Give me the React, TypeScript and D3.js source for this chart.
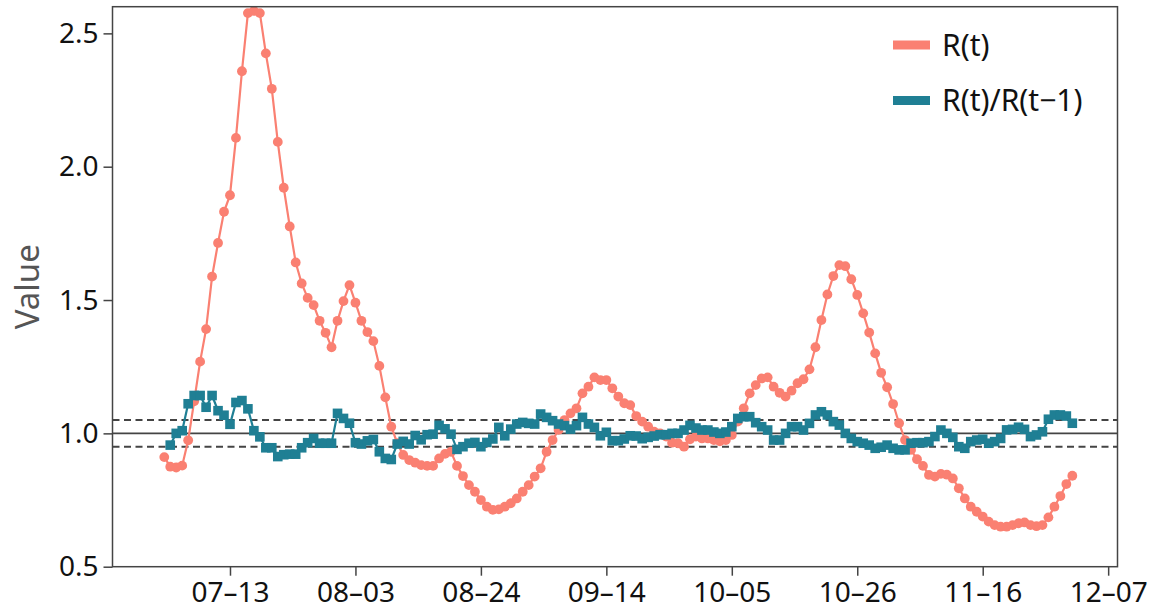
import * as d3 from "d3";
import { useEffect, useRef } from "react";

// R(t), daily from 2020-07-02
const rStart = "2020-07-02";
const rValues = [
    0.911, 0.875, 0.872, 0.879, 0.974, 1.12, 1.269, 1.391, 1.588, 1.714, 1.831, 1.893,
    2.108, 2.358, 2.576, 2.584, 2.576, 2.425, 2.292, 2.093, 1.921, 1.776, 1.641, 1.562,
    1.508, 1.481, 1.422, 1.377, 1.323, 1.422, 1.496, 1.556, 1.49, 1.422, 1.38, 1.346,
    1.253, 1.135, 1.025, 0.963, 0.919, 0.9, 0.89, 0.881, 0.878, 0.878, 0.906, 0.923,
    0.931, 0.878, 0.84, 0.806, 0.781, 0.75, 0.725, 0.713, 0.715, 0.725, 0.738, 0.756,
    0.781, 0.806, 0.838, 0.869, 0.931, 0.975, 1.013, 1.05, 1.075, 1.094, 1.15, 1.175,
    1.21, 1.2, 1.2, 1.169, 1.138, 1.113, 1.106, 1.065, 1.044, 1.025, 1.006, 1.0,
    0.988, 0.965, 0.963, 0.95, 0.978, 0.988, 0.981, 0.981, 0.975, 0.97, 0.975, 0.994,
    1.044, 1.094, 1.15, 1.181, 1.206, 1.21, 1.175, 1.152, 1.138, 1.16, 1.188, 1.203,
    1.24, 1.323, 1.425, 1.521, 1.59, 1.631, 1.627, 1.578, 1.519, 1.45, 1.378, 1.3,
    1.227, 1.173, 1.11, 1.038, 0.975, 0.938, 0.903, 0.878, 0.844, 0.838, 0.848, 0.845,
    0.831, 0.794, 0.756, 0.725, 0.706, 0.688, 0.669, 0.656, 0.65, 0.65, 0.656, 0.663,
    0.666, 0.656, 0.652, 0.656, 0.685, 0.725, 0.765, 0.81, 0.841
];

// R(t)/R(t-1), daily from 2020-07-03
const ratioStart = "2020-07-03";
const ratioValues = [
    0.956, 1.0, 1.01, 1.111, 1.142, 1.142, 1.098, 1.142, 1.085, 1.068, 1.034, 1.116,
    1.123, 1.092, 1.01, 0.987, 0.946, 0.946, 0.913, 0.92, 0.922, 0.922, 0.946, 0.965,
    0.981, 0.963, 0.963, 0.963, 1.075, 1.056, 1.038, 0.965, 0.96, 0.972, 0.977, 0.931,
    0.906, 0.902, 0.96, 0.97, 0.96, 0.992, 0.976, 0.995, 0.997, 1.03, 1.017, 0.997,
    0.94, 0.95, 0.963, 0.966, 0.95, 0.966, 0.979, 1.0225, 0.991, 1.016, 1.035, 1.041,
    1.0375, 1.035, 1.0725, 1.06, 1.0475, 1.035, 1.029, 1.016, 1.029, 1.06, 1.035, 1.0225,
    0.991, 1.004, 0.9725, 0.9725, 0.979, 0.991, 0.99, 0.98, 0.985, 0.99, 0.995, 0.995,
    1.0, 1.0, 1.0125, 1.03, 1.02, 1.0125, 1.0125, 1.005, 1.0, 1.005, 1.025, 1.056,
    1.0625, 1.0625, 1.04, 1.025, 1.0125, 0.975, 0.975, 1.0, 1.025, 1.025, 1.0125, 1.0375,
    1.069, 1.081, 1.069, 1.044, 1.031, 1.0, 0.981, 0.969, 0.963, 0.956, 0.944, 0.948,
    0.956, 0.944, 0.938, 0.938, 0.963, 0.965, 0.965, 0.969, 0.988, 1.0125, 1.0, 0.985,
    0.95, 0.944, 0.969, 0.975, 0.978, 0.963, 0.969, 0.981, 1.013, 1.015, 1.023, 1.015,
    0.988, 0.994, 1.006, 1.053, 1.069, 1.069, 1.065, 1.038
];

const xTickLabels = ["07-13", "08-03", "08-24", "09-14", "10-05", "10-26", "11-16", "12-07"];
const yTicks = [0.5, 1.0, 1.5, 2.0, 2.5];
const refLevels = [0.95, 1.0, 1.05];
const seriesNames = ["R(t)", "R(t)/R(t\u22121)"];

const COLOR_R = "#fa8072";
const COLOR_RATIO = "#1f7f94";
const AXIS_COLOR = "#444";
const FONT = "'Noto Sans', 'Open Sans', sans-serif";

const toSeries = (start: string, values: number[]) => {
    const t0 = d3.utcParse("%Y-%m-%d")(start) as Date;
    return values.map((v, i) => ({ date: d3.utcDay.offset(t0, i), value: v }));
};

const App = () => {
    const ref = useRef<SVGSVGElement>(null);

    useEffect(() => {
        const svg = d3.select(ref.current);
        svg.selectAll("*").remove();

        const left = 112.5, right = 1117.5, top = 6.7, bottom = 566.7;

        const x = d3.scaleUtc()
            .domain([new Date(Date.UTC(2020, 5, 23, 8)), new Date(Date.UTC(2020, 11, 8, 13, 30))])
            .range([left, right]);
        const y = d3.scaleLinear().domain([0.5, 2.6]).range([bottom, top]);

        const parseTick = d3.utcParse("%Y-%m-%d");
        const xTicks = xTickLabels.map(l => parseTick("2020-" + l) as Date);

        // reference lines
        svg.append("g").selectAll("line")
            .data(refLevels)
            .enter()
            .append("line")
            .attr("x1", left).attr("x2", right)
            .attr("y1", d => y(d)).attr("y2", d => y(d))
            .attr("stroke", AXIS_COLOR)
            .attr("stroke-width", 1.9)
            .attr("stroke-dasharray", d => d === 1.0 ? null : "7,4.5");

        const rData = toSeries(rStart, rValues);
        const ratioData = toSeries(ratioStart, ratioValues);

        const line = d3.line<{ date: Date; value: number }>()
            .x(d => x(d.date))
            .y(d => y(d.value));

        // R(t)
        const gR = svg.append("g");
        gR.append("path")
            .datum(rData)
            .attr("d", line)
            .attr("fill", "none")
            .attr("stroke", COLOR_R)
            .attr("stroke-width", 2.2);
        gR.selectAll("circle")
            .data(rData)
            .enter()
            .append("circle")
            .attr("cx", d => x(d.date))
            .attr("cy", d => y(d.value))
            .attr("r", 4.9)
            .attr("fill", COLOR_R);

        // R(t)/R(t-1)
        const gQ = svg.append("g");
        gQ.append("path")
            .datum(ratioData)
            .attr("d", line)
            .attr("fill", "none")
            .attr("stroke", COLOR_RATIO)
            .attr("stroke-width", 2.2);
        const sq = 9.6;
        gQ.selectAll("rect")
            .data(ratioData)
            .enter()
            .append("rect")
            .attr("x", d => x(d.date) - sq / 2)
            .attr("y", d => y(d.value) - sq / 2)
            .attr("width", sq)
            .attr("height", sq)
            .attr("fill", COLOR_RATIO);

        // frame
        svg.append("rect")
            .attr("x", left).attr("y", top)
            .attr("width", right - left).attr("height", bottom - top)
            .attr("fill", "none")
            .attr("stroke", AXIS_COLOR)
            .attr("stroke-width", 1.5);

        // axes
        const xAxis = svg.append("g")
            .attr("transform", "translate(0," + bottom + ")")
            .call(d3.axisBottom(x).tickValues(xTicks).tickSize(9).tickPadding(6)
                .tickFormat((d, i) => xTickLabels[i].replace("-", "\u2013")));
        const yAxis = svg.append("g")
            .attr("transform", "translate(" + left + ",0)")
            .call(d3.axisLeft(y).tickValues(yTicks).tickSize(9).tickPadding(5)
                .tickFormat(d3.format(".1f")));

        [xAxis, yAxis].forEach(g => {
            g.select(".domain").remove();
            g.selectAll(".tick line").attr("stroke", AXIS_COLOR).attr("stroke-width", 1.5);
            g.selectAll(".tick text")
                .attr("fill", "#111")
                .style("font-family", FONT)
                .style("font-size", "28px");
        });

        svg.append("text")
            .attr("transform", "translate(39," + (top + bottom) / 2 + ") rotate(-90)")
            .attr("text-anchor", "middle")
            .attr("fill", "#555")
            .style("font-family", FONT)
            .style("font-size", "33px")
            .text("Value");

        // legend
        const legend = svg.append("g");
        const legendColors = [COLOR_R, COLOR_RATIO];
        seriesNames.forEach((name, i) => {
            const ly = 45 + i * 55.5;
            legend.append("line")
                .attr("x1", 893).attr("x2", 930)
                .attr("y1", ly).attr("y2", ly)
                .attr("stroke", legendColors[i])
                .attr("stroke-width", 9);
            legend.append("text")
                .attr("x", 942)
                .attr("y", ly + 10.5)
                .attr("fill", "#111")
                .style("font-family", FONT)
                .style("font-size", "30px")
                .text(name);
        });
    });

    return (
        <svg ref={ref} width="1156" height="611"
            style={{ position: "absolute", left: 0, top: 0, background: "white" }} />
    );
};

export default App;
